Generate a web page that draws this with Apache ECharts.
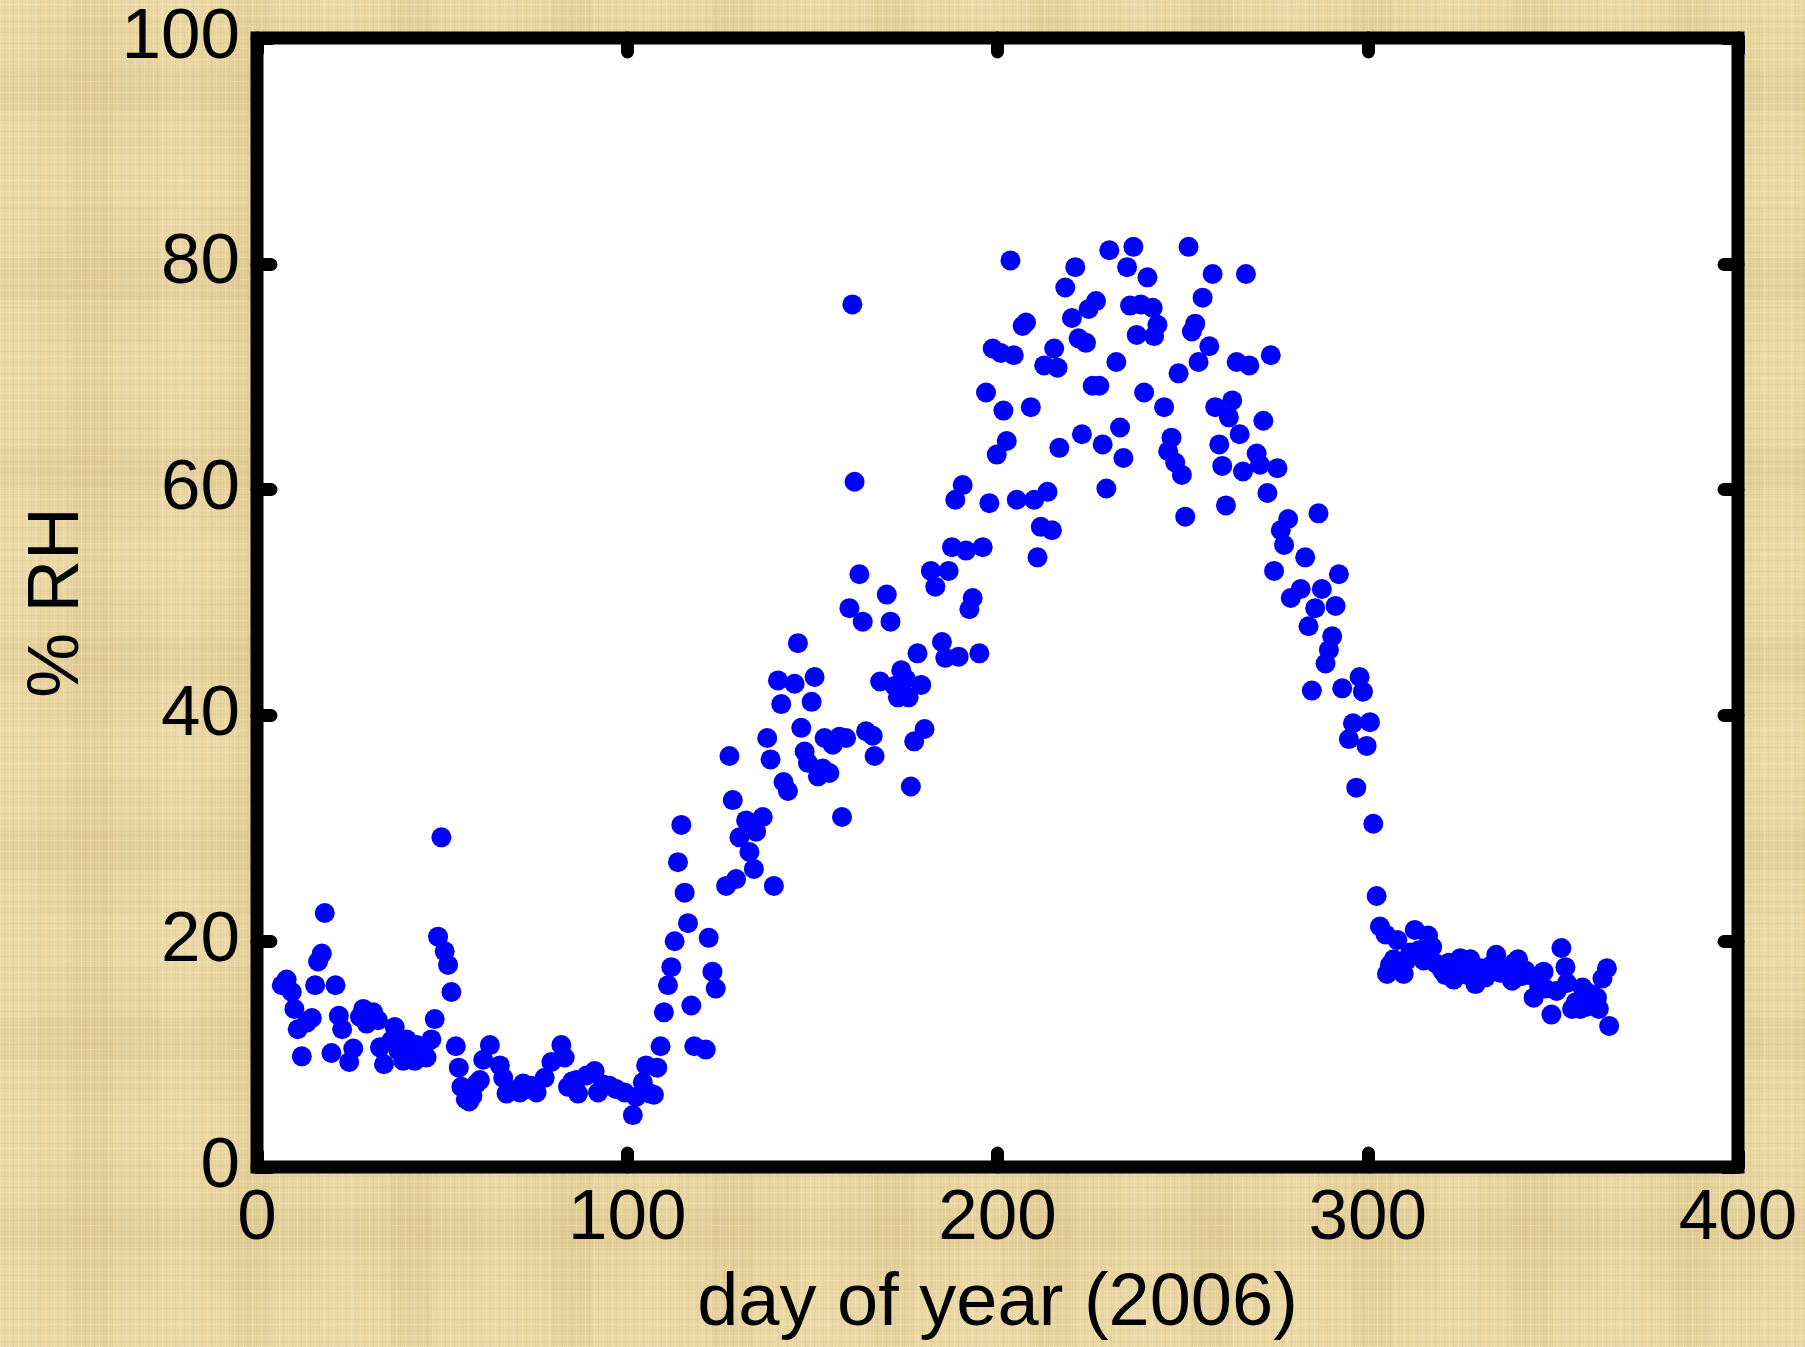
<!DOCTYPE html>
<html>
<head>
<meta charset="utf-8">
<title>% RH by day of year (2006)</title>
<script src="https://cdn.jsdelivr.net/npm/echarts@6/dist/echarts.min.js"></script>
<style>
  html, body { margin: 0; padding: 0; width: 1805px; height: 1347px; overflow: hidden; }
  body {
    background-color: #e8d49e;
    background-image:
      repeating-linear-gradient(90deg, rgba(255,250,225,.20) 0px 1px, transparent 1px 4px, rgba(170,140,70,.09) 4px 5px, transparent 5px 9px),
      repeating-linear-gradient(0deg, rgba(255,250,225,.16) 0px 1px, transparent 1px 5px, rgba(170,140,70,.07) 5px 6px, transparent 6px 11px),
      repeating-linear-gradient(90deg, rgba(255,255,240,.07) 0 37px, transparent 37px 71px, rgba(150,120,60,.05) 71px 113px, transparent 113px 160px),
      repeating-linear-gradient(0deg, rgba(255,255,240,.07) 0 53px, transparent 53px 97px, rgba(150,120,60,.05) 97px 139px, transparent 139px 190px);
  }
  #chart { width: 1805px; height: 1347px; }
</style>
</head>
<body>
<div id="chart"></div>
<script>
// Daily relative humidity readings, 2006
const dayOfYear = [
  6.7, 8.0, 9.4, 10.1, 11.0, 12.1, 13.5, 14.8, 15.7, 16.5, 17.5, 18.3, 20.1, 21.2, 22.1, 23.0, 24.9, 26.0,
  27.8, 28.7, 29.6, 31.4, 32.7, 33.2, 34.3, 36.3, 37.2, 38.2, 39.5, 40.4, 41.5, 42.6, 43.1, 44.9, 45.8,
  47.1, 48.0, 48.9, 49.8, 50.7, 51.6, 52.5, 53.7, 54.5, 55.2, 56.4, 57.3, 58.2, 59.3, 60.2, 61.1, 62.9,
  65.6, 66.5, 67.4, 69.2, 71.0, 71.9, 73.0, 74.1, 75.5, 77.7, 79.5, 82.2, 83.1, 84.0, 85.2, 86.3, 86.7,
  89.0, 91.2, 92.1, 93.5, 95.2, 97.0, 99.3, 101.5, 102.4, 104.2, 105.1, 106.2, 107.2, 108.1, 109.0,
  109.9, 111.0, 111.9, 112.8, 113.7, 114.6, 115.5, 116.4, 117.3, 118.1,
  121.2, 122.0, 123.0, 123.9, 126.7, 127.6, 128.5, 129.4, 130.3, 132.1, 133.0, 134.2, 134.8, 136.6,
  137.8, 138.7, 139.6, 140.7, 141.6, 142.2, 143.4, 145.2, 146.1, 147.0, 147.9, 148.8, 149.8, 150.6,
  151.5, 152.8, 153.3, 154.6, 155.5, 157.3, 158.0, 159.1, 160.0, 160.8, 161.4, 162.7, 163.6, 164.5,
  166.3, 166.8, 168.3, 170.1, 171.1, 172.2, 173.1, 174.0, 175.3, 176.0, 176.6, 177.5, 178.4, 179.4,
  180.3, 182.0, 183.2, 185.0, 185.9, 186.8, 187.7, 188.6, 189.5, 190.6, 191.5, 192.4, 193.3, 195.1,
  196.0, 196.9, 197.8, 198.7, 199.8, 200.9, 201.6, 202.5, 203.5, 204.4, 205.2, 206.8, 207.7, 209.0,
  209.9, 210.8, 211.7, 212.6, 213.5, 214.7, 215.3, 216.2, 216.7,
  218.3, 220.1, 221.0, 221.9, 222.8, 223.9, 224.6, 225.7, 226.6, 227.5, 228.4, 229.4, 230.2, 232.1,
  233.1, 234.0, 235.0, 235.8, 236.7, 237.6, 238.7, 239.6, 240.5, 241.9, 242.3, 243.2, 245.0, 246.1,
  247.0, 248.0, 248.9, 249.8, 250.7, 251.6, 252.5, 253.4, 254.3, 255.4, 257.2, 258.1, 258.8, 259.9,
  260.7, 261.7, 262.5, 263.4, 264.6, 265.4, 266.3, 267.1, 268.0,
  270.0, 270.9, 271.8, 272.9, 273.8, 274.7, 275.6, 276.5, 277.4, 278.5, 279.2, 281.9, 283.1, 284.0,
  284.9, 285.8, 286.7, 287.6, 288.6, 289.5, 290.4, 291.3, 292.2, 293.1, 294.9, 296.0, 296.9, 297.8,
  298.7, 299.7, 300.6, 301.5, 302.4, 303.3,
  304.8, 305.2, 306.0, 307.0, 308.0, 309.7, 310.5, 311.5, 312.7, 313.8, 315.1, 316.3, 317.4, 318.5,
  320.1, 321.0, 321.9, 323.2, 325.0, 325.9, 327.0, 327.7, 329.1, 330.5, 331.8, 333.1, 334.7, 335.8,
  336.9, 338.0, 339.0, 339.6, 340.6, 341.5, 342.6, 343.5, 344.8, 346.3, 347.5, 347.9, 349.6, 351.0,
  352.3, 353.4, 353.8, 355.2, 356.2, 357.4, 358.0, 359.1, 360.6, 361.9, 362.4, 363.4, 364.6, 365.2
];

const relHumidity = [
  16.1, 16.6, 15.5, 14.0, 12.2, 9.8, 12.8, 13.2, 16.1, 18.2, 18.9, 22.5, 10.1, 16.1, 13.4, 12.2, 9.3, 10.5,
  13.3, 14.0, 12.7, 13.7, 13.0, 10.6, 9.1, 11.2, 12.4, 10.3, 9.4, 11.3, 10.0, 9.4, 10.8, 10.4, 9.7,
  11.3, 13.1, 20.4, 29.2, 19.1, 17.9, 15.5, 10.7, 8.8, 7.1, 6.0, 5.8, 6.3, 7.4, 7.7, 9.5, 10.8,
  9.0, 7.9, 6.5, 6.8, 6.6, 7.4, 6.9, 7.2, 6.6, 7.9, 9.3, 10.8, 9.7, 7.1, 7.6, 7.7, 6.5,
  8.1, 8.5, 6.6, 7.3, 7.2, 6.9, 6.6, 4.6, 6.2, 7.5, 9.0, 6.5, 6.4, 8.8, 10.7,
  13.7, 16.1, 17.7, 20.0, 27.0, 30.3, 24.3, 21.6, 14.3, 10.7,
  10.4, 20.3, 17.3, 15.8, 24.9, 36.4, 32.5, 25.5, 29.2, 30.7, 27.9, 26.4, 29.7, 31.0,
  38.0, 36.1, 24.9, 43.1, 41.0, 34.1, 33.3, 42.8, 46.4, 38.9, 36.8, 35.8, 41.2, 43.4,
  34.6, 35.3, 38.0, 34.9, 37.4, 38.1, 31.0, 38.0, 49.5, 76.4, 60.7, 52.5, 48.3, 38.6,
  38.2, 36.4, 43.0, 50.7, 48.3, 42.6, 41.6, 44.0, 43.2, 41.6, 33.7, 37.7, 45.5, 42.7,
  38.8, 52.8, 51.4, 46.5, 45.1, 52.8, 54.9, 59.1, 45.2, 60.4, 54.6, 49.4, 50.4, 45.5,
  54.9, 68.6, 58.8, 72.5, 63.1, 72.1, 67.0, 64.3, 80.3, 71.9, 59.1, 74.5, 74.8, 67.3,
  59.1, 54.0, 56.7, 71.0, 59.8, 56.4, 72.5, 70.8, 63.7,
  77.9, 75.2, 79.7, 73.4, 64.9, 73.0, 76.0, 69.2, 76.7, 69.2, 64.0, 60.1, 81.2, 71.3,
  65.5, 62.8, 79.7, 76.3, 81.5, 73.7, 76.4, 68.6, 78.8, 76.1, 73.6, 74.6, 67.3, 63.4,
  64.6, 62.4, 70.3, 61.3, 57.6, 81.5, 74.0, 74.7, 71.3, 77.0, 72.7, 79.1, 67.3, 64.0,
  62.1, 58.6, 66.4, 67.9, 71.3, 64.9, 61.6, 79.1, 71.0,
  63.2, 62.2, 66.1, 59.7, 71.9, 52.8, 61.9, 56.4, 55.1, 57.4, 50.4, 51.2, 54.0, 47.9,
  42.2, 49.5, 57.9, 51.2, 44.6, 45.8, 47.0, 49.7, 52.5, 42.4, 37.9, 39.3, 33.6, 43.4,
  42.1, 37.3, 39.4, 30.4, 24.0, 21.3,
  20.6, 17.1, 17.9, 18.4, 20.1, 17.1, 18.3, 19.0, 21.0, 19.2, 18.3, 20.5, 19.5, 18.0,
  17.4, 17.0, 18.1, 16.6, 18.5, 17.9, 17.0, 18.4, 16.2, 17.6, 16.8, 17.8, 18.8, 17.2,
  17.5, 17.0, 16.5, 18.1, 18.4, 16.9, 17.4, 17.0, 15.0, 16.0, 17.3, 15.8, 13.5, 15.6,
  19.4, 17.7, 16.3, 14.0, 14.6, 14.0, 15.9, 14.2, 15.3, 15.0, 14.0, 16.7, 17.6, 12.5
];

// Axis ranges and tick labels
const xTickLabels = ['0', '100', '200', '300', '400'];
const yTickLabels = ['0', '20', '40', '60', '80', '100'];
const xRange = { min: 0, max: 400, step: 100 };
const yRange = { min: 0, max: 100, step: 20 };
const xTitle = 'day of year (2006)';
const yTitle = '% RH';

const points = dayOfYear.map((d, i) => [d, relHumidity[i]]);

const FONT = "'Liberation Sans', Arial, Helvetica, sans-serif";
const labelStyle = () => ({ color: '#000', fontSize: 71, fontFamily: FONT });
const tickStyle = () => ({ show: true, inside: true, length: 14, lineStyle: { color: '#000', width: 13, cap: 'round' } });
const hiddenLine = () => ({ show: false, onZero: false });

function xLabel(v) {
  const i = xTickLabels.indexOf(String(v));
  return i >= 0 ? xTickLabels[i] : '';
}
function yLabel(v) {
  const i = yTickLabels.indexOf(String(v));
  return i >= 0 ? yTickLabels[i] : '';
}

const chart = echarts.init(document.getElementById('chart'), null, { renderer: 'canvas' });
chart.setOption({
  backgroundColor: 'transparent',
  animation: false,
  grid: {
    left: 257, right: 67, top: 38, bottom: 177,
    show: true, backgroundColor: '#ffffff', borderColor: '#000000', borderWidth: 13
  },
  xAxis: [
    {
      type: 'value', position: 'bottom',
      min: xRange.min, max: xRange.max, interval: xRange.step,
      axisLine: hiddenLine(), splitLine: { show: false },
      axisTick: tickStyle(),
      axisLabel: Object.assign({ margin: 17, formatter: xLabel }, labelStyle()),
      name: xTitle, nameLocation: 'middle', nameGap: 101,
      nameTextStyle: Object.assign(labelStyle(), { fontSize: 74 })
    },
    {
      type: 'value', position: 'top',
      min: xRange.min, max: xRange.max, interval: xRange.step,
      axisLine: hiddenLine(), splitLine: { show: false },
      axisTick: tickStyle(), axisLabel: { show: false }
    }
  ],
  yAxis: [
    {
      type: 'value', position: 'left',
      min: yRange.min, max: yRange.max, interval: yRange.step,
      axisLine: hiddenLine(), splitLine: { show: false },
      axisTick: tickStyle(),
      axisLabel: Object.assign({ margin: 17, formatter: yLabel }, labelStyle()),
      name: yTitle, nameLocation: 'middle', nameGap: 163, nameRotate: 90,
      nameTextStyle: Object.assign(labelStyle(), { fontSize: 73 })
    },
    {
      type: 'value', position: 'right',
      min: yRange.min, max: yRange.max, interval: yRange.step,
      axisLine: hiddenLine(), splitLine: { show: false },
      axisTick: tickStyle(), axisLabel: { show: false }
    }
  ],
  series: [
    {
      type: 'scatter',
      xAxisIndex: 0, yAxisIndex: 0,
      data: points,
      symbol: 'circle', symbolSize: 20,
      itemStyle: { color: '#0000ff', opacity: 1 },
      emphasis: { disabled: true }
    }
  ]
});
</script>
</body>
</html>
